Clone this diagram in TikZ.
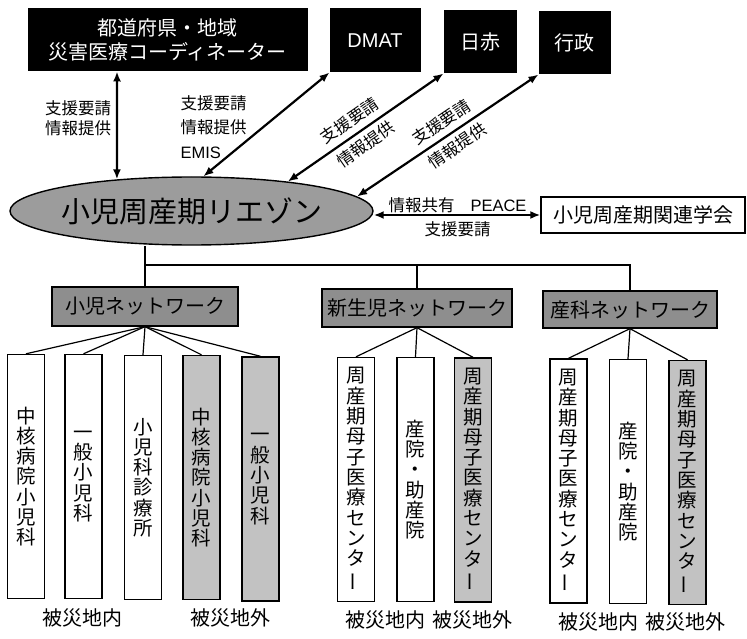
\documentclass[tikz,border=0pt]{standalone}
\usepackage{fontspec}
\setmainfont{Noto Sans CJK JP}
\newfontfamily\lat{Liberation Sans}
\usetikzlibrary{arrows.meta,shapes.geometric}
\newcommand\fs[2]{\fontsize{#1}{#2}\selectfont}
\newcommand\vbar{\rotatebox[origin=c]{90}{ー}}
\definecolor{ellgray}{HTML}{9C9C9C}
\definecolor{netgray}{HTML}{8E8E8E}
\definecolor{boxgray}{HTML}{C2C2C2}
\begin{document}
\begin{tikzpicture}[x=1pt,y=-1pt,
  blackbox/.style={draw=black,fill=black,text=white,inner sep=0pt,line width=1pt},
  netbox/.style={draw=black,fill=netgray,inner sep=0pt,line width=1.3pt,font=\fs{20}{24}},
  vbox/.style={draw=black,fill=white,inner sep=0pt,line width=1.4pt,minimum width=37pt,minimum height=244pt,align=center,font=\fs{19.5}{20.3}},
  gbox/.style={fill=boxgray},
  lbl/.style={font=\fs{16.5}{20}},
  arr/.style={{Latex[length=10pt,width=8pt]}-{Latex[length=10pt,width=8pt]},line width=2.2pt},
  conn/.style={line width=1.2pt}
]
\fill[white] (0,0) rectangle (747,639);
\useasboundingbox (0,0) rectangle (747,639);

% top boxes
\node[blackbox,minimum width=279pt,minimum height=62pt,align=center,font=\fs{20}{24}] (T0) at (167.5,40) {都道府県・地域\\災害医療コーディネーター};
\node[blackbox,minimum width=90pt,minimum height=63pt,font=\lat\fs{20}{24}] (DM) at (375,40.5) {DMAT};
\node[blackbox,minimum width=72pt,minimum height=62pt,font=\fs{20}{24}] (JRC) at (480,42) {日赤};
\node[blackbox,minimum width=71pt,minimum height=62pt,font=\fs{20}{24}] (GOV) at (574.5,43) {行政};

% ellipse
\node[ellipse,draw=black,fill=ellgray,line width=1.4pt,inner sep=0pt,minimum width=363pt,minimum height=68pt,font=\fs{29}{34}] (ell) at (191.5,211) {\makebox[0pt][c]{小児周産期リエゾン}};

% right box
\node[draw=black,fill=white,line width=1.3pt,inner sep=0pt,minimum width=204pt,minimum height=36pt,font=\fs{20}{24}] (R) at (643,215) {小児周産期関連学会};

% arrows
\coordinate (a1) at (117,0);
\draw[arr] (T0.south -| a1) -- (ell.157.4);
\draw[arr] (ell.71.3) -- (DM.south west);
\draw[arr] (ell.17.3) -- (JRC.south west)
  node[pos=0.45,sloped,above,inner sep=6pt,lbl]{支援要請}
  node[pos=0.45,sloped,below,inner sep=5pt,lbl]{情報提供};
\draw[arr] (ell.5.2) -- (GOV.south west)
  node[pos=0.51,sloped,above,inner sep=6pt,lbl]{支援要請}
  node[pos=0.51,sloped,below,inner sep=5pt,lbl]{情報提供};
\draw[arr] (R.west -| ell.east) -- (R.west);

% arrow labels
\node[lbl,align=center] (l1) at (78,118) {支援要請\\情報提供};
\node[align=left,anchor=west,font=\fs{16.5}{24.5}] (l2) at (177,127) {支援要請\\情報提供\\{\lat EMIS}};
\node[lbl] (l3) at (457.5,205) {情報共有\hspace{16pt}{\lat PEACE}};
\node[lbl] (l4) at (457.5,229) {支援要請};

% network boxes
\node[netbox,minimum width=186pt,minimum height=39pt] (N1) at (145,306.5) {小児ネットワーク};
\node[netbox,minimum width=190pt,minimum height=38pt] (N2) at (417,308) {新生児ネットワーク};
\node[netbox,minimum width=174pt,minimum height=37pt] (N3) at (630,309.5) {産科ネットワーク};

% tree connectors
\coordinate (j) at (145,265);
\draw[conn] (N1.north) -- (N1.north |- ell.south);
\draw[conn] (j) -| (N3.north);
\draw[conn] (N2.north) -- (N2.north |- j);

% vertical boxes
\node[vbox] (A) at (26,476.5) {中\\核\\病\\院\\小\\児\\科};
\node[vbox] (B) at (83.5,476.5) {一\\般\\小\\児\\科};
\node[vbox] (C) at (143,477.5) {小\\児\\科\\診\\療\\所};
\node[vbox,gbox] (D) at (201.5,477.5) {中\\核\\病\\院\\小\\児\\科};
\node[vbox,gbox] (E) at (260.5,479) {一\\般\\小\\児\\科};
\node[vbox] (F) at (356,479.5) {周\\産\\期\\母\\子\\医\\療\\セ\\ン\\タ\\\vbar};
\node[vbox] (G) at (415.5,479.5) {産\\院\\・\\助\\産\\院};
\node[vbox,gbox] (H) at (473,480) {周\\産\\期\\母\\子\\医\\療\\セ\\ン\\タ\\\vbar};
\node[vbox] (I) at (568.5,481) {周\\産\\期\\母\\子\\医\\療\\セ\\ン\\タ\\\vbar};
\node[vbox] (J) at (628,481.5) {産\\院\\・\\助\\産\\院};
\node[vbox,gbox] (K) at (687.5,482.5) {周\\産\\期\\母\\子\\医\\療\\セ\\ン\\タ\\\vbar};

\foreach \b in {A,B,C,D,E} \draw[conn] (N1.south) -- (\b.north);
\foreach \b in {F,G,H} \draw[conn] (N2.south) -- (\b.north);
\foreach \b in {I,J,K} \draw[conn] (N3.south) -- (\b.north);

% bottom labels
\node[font=\fs{20}{24}] (b1) at (82,618) {被災地内};
\node[font=\fs{20}{24}] (b2) at (230,618) {被災地外};
\node[font=\fs{20}{24}] (b3) at (385,620) {被災地内};
\node[font=\fs{20}{24}] (b4) at (472,620) {被災地外};
\node[font=\fs{20}{24}] (b5) at (598,622) {被災地内};
\node[font=\fs{20}{24}] (b6) at (685,622) {被災地外};
\end{tikzpicture}
\end{document}
